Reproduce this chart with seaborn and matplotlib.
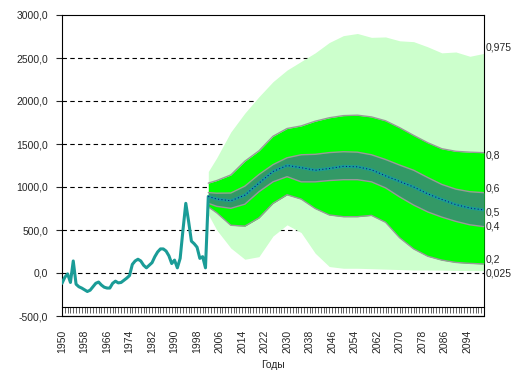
import seaborn as sns
import matplotlib.pyplot as plt
import matplotlib.ticker as mticker
import numpy as np
import pandas as pd

# historical series
hist_years = list(range(1950, 2003))
hist_values = [-120, -50, -10, -110, 140, -130, -160, -175, -195, -215,
               -200, -160, -120, -105, -140, -165, -175, -175, -120, -95,
               -115, -110, -85, -60, -30, 100, 140, 160, 140, 90,
               60, 90, 120, 190, 245, 280, 280, 255, 200, 110,
               150, 60, 170, 500, 810, 600, 370, 340, 300, 170,
               190, 60, 890]

# forecast fan (quantiles)
fan_years = [2002, 2005, 2010, 2015, 2020, 2025, 2030, 2035, 2040, 2045, 2050,
             2055, 2060, 2065, 2070, 2075, 2080, 2085, 2090, 2095, 2100]
q025 = [680, 500, 290, 160, 190, 430, 560, 470, 230, 75, 55,
        55, 50, 45, 40, 35, 35, 33, 30, 28, 27]
q20 = [770, 700, 555, 545, 640, 810, 910, 860, 750, 675, 655,
       655, 670, 590, 410, 280, 195, 150, 123, 112, 105]
q40 = [810, 775, 752, 800, 945, 1060, 1120, 1060, 1060, 1075, 1085,
       1085, 1060, 990, 885, 790, 710, 650, 600, 560, 539]
q50 = [890, 860, 840, 905, 1045, 1180, 1250, 1225, 1195, 1215, 1240,
       1235, 1200, 1130, 1065, 1000, 920, 855, 795, 755, 733]
q60 = [935, 928, 930, 1010, 1145, 1260, 1340, 1375, 1380, 1400, 1410,
       1405, 1375, 1320, 1255, 1195, 1110, 1030, 975, 945, 934]
q80 = [1045, 1075, 1140, 1300, 1420, 1590, 1680, 1710, 1765, 1805, 1830,
       1835, 1815, 1770, 1690, 1600, 1515, 1445, 1415, 1405, 1399]
q975 = [1180, 1340, 1640, 1860, 2050, 2225, 2360, 2460, 2560, 2680, 2760,
        2785, 2740, 2745, 2700, 2690, 2630, 2560, 2570, 2520, 2554]
q_labels = ['0,975', '0,8', '0,6', '0,5', '0,4', '0,2', '0,025']

sns.set_style('white')
plt.rcParams['font.family'] = ['Liberation Sans', 'DejaVu Sans']
plt.rcParams['font.size'] = 7.5

fig = plt.figure(figsize=(5.21, 3.92), dpi=100)
ax = fig.add_axes([62 / 521, 1 - 316 / 392, 422 / 521, 301 / 392])

# dashed grid behind the fan
for v in range(0, 3000, 500):
    ax.axhline(v, color='black', lw=0.8, dashes=(4, 3), zorder=1)

ax.fill_between(fan_years, q025, q975, color='#ccffcc', lw=0, zorder=2)
ax.fill_between(fan_years, q20, q80, color='#00ff00', lw=0, zorder=3)
ax.fill_between(fan_years, q40, q60, color='#339966', lw=0, zorder=4)
for q in [q20, q40, q60, q80]:
    sns.lineplot(x=fan_years, y=q, color='#999999', lw=1, ax=ax, zorder=5)

line = pd.DataFrame({'year': hist_years + fan_years[1:],
                     'value': hist_values + q50[1:]})
sns.lineplot(data=line, x='year', y='value', color='#1a9c97', lw=2.2,
             ax=ax, zorder=6)
# dotted median overlay on the forecast part
sns.lineplot(x=fan_years, y=q50, color='#000080', lw=0.7,
             ax=ax, zorder=7, linestyle=(0, (1, 2.5)))

# labels at the right end of the fan
ends = [q975[-1], q80[-1], q60[-1], q50[-1], q40[-1], q20[-1], q025[-1]]
offsets = [4, -2, 3, -2, 0, 3, -2]
for lab, v, dy in zip(q_labels, ends, offsets):
    ax.annotate(lab, xy=(2100, v), xytext=(1.5, dy), textcoords='offset points',
                ha='left', va='center', fontsize=7.5, annotation_clip=False)

ax.set_xlim(1950, 2100)
ax.set_ylim(-500, 3000)
ax.set_yticks(range(-500, 3001, 500))
ax.yaxis.set_major_formatter(mticker.FuncFormatter(
    lambda v, p: f'{v:.1f}'.replace('.', ',')))
ax.set_xticks(range(1950, 2100, 8))
ax.xaxis.set_minor_locator(mticker.MultipleLocator(1))
ax.tick_params(axis='x', which='both', direction='out', length=4, width=0.5,
               labelsize=7.5, labelrotation=90, pad=12, bottom=True)
ax.tick_params(axis='y', direction='out', length=4, width=0.8,
               labelsize=7.5, pad=6, left=True)

for s in ax.spines.values():
    s.set_color('black')
    s.set_linewidth(0.8)
ax.spines['bottom'].set_position(('data', -400))
ax.axhline(-500, color='black', lw=0.9, clip_on=False, zorder=8)

ax.set_xlabel('Годы', fontsize=7.5)
ax.xaxis.set_label_coords(0.5, -0.145)
ax.set_ylabel('')

fig.savefig('out.png', dpi=100)
